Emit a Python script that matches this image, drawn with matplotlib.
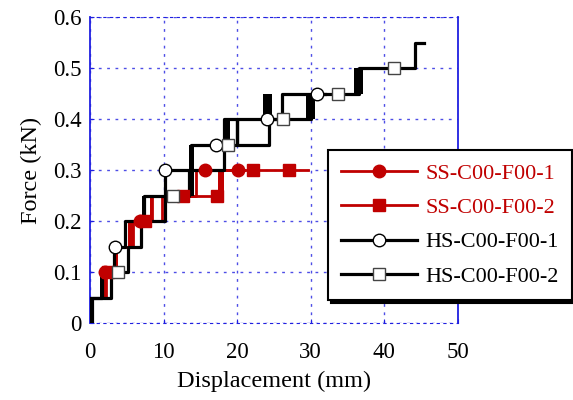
import matplotlib
matplotlib.use("Agg")
import matplotlib.pyplot as plt
from matplotlib.lines import Line2D

plt.rcParams["font.family"] = ["Liberation Serif", "DejaVu Serif"]

RED = "#c00000"
BLUE = "#2020e0"

# step paths (displacement mm, force kN)
ss1_x = [0, 0, 2.0, 2.0, 3.5, 3.5, 5.5, 5.5, 8.4, 8.4, 14.4, 14.4, 21.0]
ss1_y = [0, 0.05, 0.05, 0.10, 0.10, 0.15, 0.15, 0.20, 0.20, 0.25, 0.25, 0.30, 0.30]
ss2_x = [0, 0, 2.2, 2.2, 3.6, 3.6, 5.9, 5.9, 9.8, 9.8, 17.8, 17.8, 29.6]
ss2_y = [0, 0.05, 0.05, 0.10, 0.10, 0.15, 0.15, 0.20, 0.20, 0.25, 0.25, 0.30, 0.30]

hs1_x = [0, 0.3, 0.3, 1.6, 1.6, 3.2, 3.2, 4.7, 4.7, 10.2, 10.2, 13.8, 13.8, 24.3, 24.3, 26.1, 26.1, 32.0]
hs1_y = [0, 0, 0.05, 0.05, 0.10, 0.10, 0.15, 0.15, 0.20, 0.20, 0.30, 0.30, 0.35, 0.35, 0.40, 0.40, 0.45, 0.45]
hs2_x = [0, 0, 2.8, 2.8, 5.2, 5.2, 6.9, 6.9, 7.3, 7.3, 13.5, 13.5, 18.2, 18.2, 20.0, 20.0, 20.0,
         30.0, 30.0, 36.5, 36.5, 44.2, 44.2, 45.4]
hs2_y = [0, 0.05, 0.05, 0.10, 0.10, 0.15, 0.15, 0.20, 0.20, 0.25, 0.25, 0.30, 0.30, 0.40, 0.40, 0.35, 0.40,
         0.40, 0.45, 0.45, 0.50, 0.50, 0.55, 0.55]

# thick blocks where the curves go back and forth
blk_x0 = [13.5, 18.2, 23.5, 29.3, 35.9, 7.1, 1.3]
blk_x1 = [14.2, 19.0, 24.7, 30.6, 37.1, 7.5, 1.7]
blk_y0 = [0.25, 0.35, 0.40, 0.40, 0.45, 0.20, 0.05]
blk_y1 = [0.35, 0.40, 0.45, 0.45, 0.50, 0.25, 0.10]
rblk_x0 = [1.8, 5.2, 17.4, 8.1]
rblk_x1 = [2.2, 5.8, 18.2, 8.6]
rblk_y0 = [0.05, 0.15, 0.25, 0.20]
rblk_y1 = [0.10, 0.20, 0.30, 0.25]

# marker positions
ss1_mx = [2.0, 6.8, 15.6, 20.1]
ss1_my = [0.10, 0.20, 0.30, 0.30]
ss2_mx = [2.4, 7.5, 12.6, 17.2, 22.1, 27.1]
ss2_my = [0.10, 0.20, 0.25, 0.25, 0.30, 0.30]
hs1_mx = [3.4, 10.2, 17.1, 24.0, 30.8]
hs1_my = [0.15, 0.30, 0.35, 0.40, 0.45]
hs2_mx = [3.8, 11.3, 18.8, 26.3, 33.7, 41.3]
hs2_my = [0.10, 0.25, 0.35, 0.40, 0.45, 0.50]

labels = ["SS-C00-F00-1", "SS-C00-F00-2", "HS-C00-F00-1", "HS-C00-F00-2"]
xticks = [0, 10, 20, 30, 40, 50]
yticks = [0, 0.1, 0.2, 0.3, 0.4, 0.5, 0.6]
ytick_labels = ["0", "0.1", "0.2", "0.3", "0.4", "0.5", "0.6"]

fig = plt.figure(figsize=(5.73, 4.0), dpi=100)
ax = fig.add_axes([0.157, 0.1925, 0.642, 0.765])

# red curves
ax.plot(ss1_x, ss1_y, color=RED, lw=2, zorder=2)
ax.plot(ss2_x, ss2_y, color=RED, lw=2, zorder=2)
ax.bar(rblk_x0, [b - a for a, b in zip(rblk_y0, rblk_y1)],
       width=[b - a for a, b in zip(rblk_x0, rblk_x1)], bottom=rblk_y0,
       align="edge", color=RED, zorder=2)

# black curves
ax.plot(hs1_x, hs1_y, color="black", lw=2.3, zorder=3)
ax.plot(hs2_x, hs2_y, color="black", lw=2.3, zorder=3)
ax.bar(blk_x0, [b - a for a, b in zip(blk_y0, blk_y1)],
       width=[b - a for a, b in zip(blk_x0, blk_x1)], bottom=blk_y0,
       align="edge", color="black", zorder=3)

# markers
ax.plot(ss1_mx, ss1_my, "o", ms=9, color=RED, zorder=5)
ax.plot(ss2_mx, ss2_my, "s", ms=9, color=RED, zorder=5)
ax.plot(hs1_mx, hs1_my, "o", ms=9, mfc="white", mec="black", mew=1, zorder=6)
ax.plot(hs2_mx, hs2_my, "s", ms=9, mfc="white", mec="#444444", mew=1, zorder=6)

ax.set_xlim(0, 50)
ax.set_ylim(0, 0.6)
ax.set_xticks(xticks)
ax.set_yticks(yticks)
ax.set_yticklabels(ytick_labels)
ax.tick_params(direction="in", length=3, color=BLUE, labelsize=16.5)
ax.tick_params(axis="x", pad=14)
ax.tick_params(axis="y", pad=6)
ax.grid(True, color=BLUE, linestyle=(0, (2, 4)), lw=1, alpha=0.8)
for side in ["left", "right"]:
    ax.spines[side].set_color(BLUE)
    ax.spines[side].set_linewidth(1.3)
for side in ["top", "bottom"]:
    ax.spines[side].set_color(BLUE)
    ax.spines[side].set_linestyle((0, (2, 4)))
ax.set_xlabel("Displacement (mm)", fontsize=17.5, labelpad=5)
ax.set_ylabel("Force (kN)", fontsize=17.5, labelpad=8)

handles = [
    Line2D([], [], color=RED, lw=2, marker="o", ms=9),
    Line2D([], [], color=RED, lw=2, marker="s", ms=9),
    Line2D([], [], color="black", lw=2.3, marker="o", ms=9, mfc="white", mec="black"),
    Line2D([], [], color="black", lw=2.3, marker="s", ms=9, mfc="white", mec="#444444"),
]
leg = fig.legend(handles, labels, loc="lower left", bbox_to_anchor=(0.572, 0.25),
                 borderaxespad=0, fontsize=16, handlelength=3.4, labelspacing=0.62,
                 borderpad=0.6, handletextpad=0.4, fancybox=False, framealpha=1,
                 shadow={"color": "black", "alpha": 1})
leg.get_frame().set_edgecolor("black")
leg.get_frame().set_linewidth(1.5)
for text, c in zip(leg.get_texts(), [RED, RED, "black", "black"]):
    text.set_color(c)

fig.savefig("out.png", dpi=100)
